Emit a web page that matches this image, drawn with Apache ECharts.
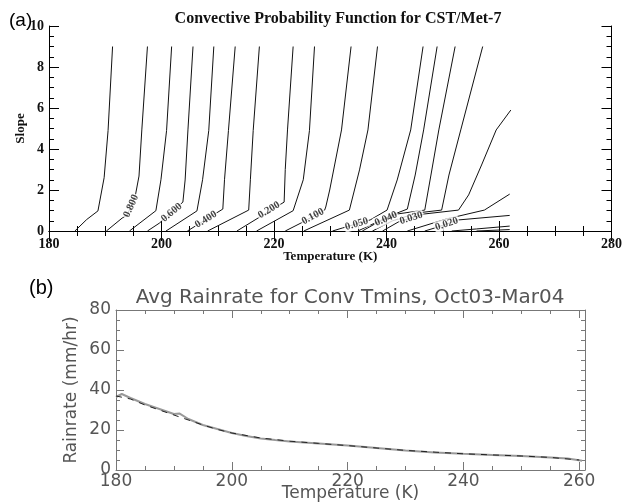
<!DOCTYPE html>
<html>
<head>
<meta charset="utf-8">
<script src="https://cdn.jsdelivr.net/npm/echarts@6/dist/echarts.min.js"></script>
<style>
html,body{margin:0;padding:0;background:#fff}
#main{width:625px;height:503px}
</style>
</head>
<body>
<div id="main"></div>
<script>
// (a) contour lines, [temperature K, slope]
const c01 = [[184.6,0],[186.7,0.56],[188.7,0.98],[189.8,2.6],[190.5,4.9],[191.3,9]];
const c02 = [[190.2,0],[193.0,0.63],[193.9,0.78],[195.3,1.66],[196.0,2.68],[196.5,4.93],[197.5,9]];
const c03 = [[194.3,0],[199.0,0.99],[199.9,2.5],[200.9,4.9],[201.8,9]];
const c04 = [[197.5,0],[199.6,0.38],[203.8,1.41],[204.2,2.49],[204.7,4.93],[205.6,9]];
const c05 = [[200.8,0],[206.3,0.98],[207.3,2.5],[208.4,4.9],[209.3,9]];
const c06 = [[204.6,0],[210.9,1.07],[211.2,2.5],[211.9,4.9],[213.1,9]];
const c07 = [[208.2,0],[215.5,1.02],[215.8,2.5],[216.3,4.9],[217.4,9]];
const c08 = [[213.4,0],[221.8,1.41],[222.0,3.0],[222.4,4.93],[223.4,9]];
const c09 = [[216.9,0],[223.4,0.99],[225.2,2.5],[226.3,4.9],[227.2,9]];
const c10 = [[222.0,0],[224.8,0.39],[229.0,1.02],[229.2,1.17],[229.9,2.0],[232.0,4.93],[233.7,9]];
const c11 = [[225.3,0],[233.4,1.02],[235.2,2.98],[236.7,4.93],[238.4,9]];
const c12 = [[230.4,0],[232.2,0.15],[237.1,0.54],[240.1,1.02],[241.9,2.49],[244.3,4.93],[246.5,9]];
const c13 = [[234.9,0],[241.0,0.78],[243.7,1.07],[245.1,2.73],[246.6,4.93],[249.0,9]];
const c14 = [[235.7,0],[237.9,0.34],[241.9,0.83],[246.8,1.02],[247.9,2.73],[249.3,4.93],[252.2,9]];
const c15 = [[237.5,0],[241.0,0.49],[245.4,0.88],[249.8,1.02],[251.1,2.73],[253.2,4.93],[257.1,9]];
const c16 = [[239.3,0],[242.1,0.44],[246.7,0.83],[252.8,1.02],[254.6,1.76],[256.9,3.22],[259.5,4.93],[262.1,5.9]];
const c17 = [[243.7,0],[250.7,0.59],[257.4,1.02],[261.9,1.8]];
const c18 = [[246.8,0],[248.6,0.15],[252.8,0.54],[261.9,0.76]];
const c19 = [[251.6,0],[256.0,0.1],[261.9,0.24]];
const c20 = [[256.0,0],[261.9,0.07]];
const contours = [c01,c02,c03,c04,c05,c06,c07,c08,c09,c10,c11,c12,c13,c14,c15,c16,c17,c18,c19,c20];

// contour labels
const levelText = ['0.800','0.600','0.400','0.200','0.100','0.050','0.040','0.030','0.020'];
const levelAt = [[194.6,1.22],[201.8,0.9],[207.9,0.56],[219.1,1.02],[226.9,0.71],[234.7,0.34],[239.9,0.59],[244.4,0.63],[250.7,0.34]];
const levelAngle = [66,40,32,31,28,16,23,17,18];

// (b) rainrate vs temperature
const rainT = [180,181,182.5,185,187.5,190,191,192.5,195,197.5,200,202.5,205,207.5,210,215,220,225,230,235,240,245,250,255,258,260.5];
const rainGray = [36.5,38,36,33,30.5,28,28.2,25.5,22.5,20.5,18.5,17,15.8,15,14.3,13.3,12.3,11,9.8,8.8,8.1,7.5,7,6.2,5.7,4.6];
const rainT2 = [180,182.5,185,187.5,190,192.5,195,197.5,200,205,210,215,220,230,240,250,255,260];
const rainBlack = [37,35.5,32.5,30,27.5,25,22.5,20.3,18.5,16,14.4,13.3,12.2,9.8,8.1,7,6.3,5];

const bMajor = [180,200,220,240,260];
const bMinor = [];
for (let t = 185; t < 261; t += 5) if (t % 20 !== 0) bMinor.push(t);

const serif = 'Liberation Serif';
const sans = 'DejaVu Sans';
const grayTxt = '#555';
const grayLine = '#777';

const chart = echarts.init(document.getElementById('main'));

const series = contours.map(function (c) {
  return {
    type: 'line', xAxisIndex: 0, yAxisIndex: 0,
    data: c, symbol: 'none', silent: true,
    lineStyle: {color: '#111', width: 1}
  };
});
series.push({
  type: 'scatter', xAxisIndex: 0, yAxisIndex: 0, symbolSize: 0, z: 5,
  data: levelAt.map(function (p, i) {
    return {value: p, name: levelText[i], label: {rotate: levelAngle[i]}};
  }),
  label: {
    show: true, position: 'inside', formatter: '{b}',
    fontFamily: serif, fontWeight: 'bold', fontSize: 10.5, color: '#111',
    backgroundColor: '#fff', padding: [0, 1]
  }
});
series.push({
  type: 'line', xAxisIndex: 2, yAxisIndex: 2, symbol: 'none',
  data: rainT.map(function (t, i) { return [t, rainGray[i]]; }),
  lineStyle: {color: '#999', width: 2}
});
series.push({
  type: 'line', xAxisIndex: 2, yAxisIndex: 2, symbol: 'none',
  data: rainT2.map(function (t, i) { return [t, rainBlack[i]]; }),
  lineStyle: {color: '#222', width: 1, type: [6, 6]}
});

const option = {
  animation: false,
  backgroundColor: '#fff',
  title: [
    {text: '(a)', left: 4, top: 6, textStyle: {fontFamily: 'Liberation Sans', fontWeight: 'normal', fontSize: 19, color: '#000'}},
    {text: '(b)', left: 24, top: 273, textStyle: {fontFamily: 'Liberation Sans', fontWeight: 'normal', fontSize: 20, color: '#000'}},
    {text: 'Convective Probability Function for CST/Met-7', left: 333, textAlign: 'center', top: 6,
      textStyle: {fontFamily: serif, fontWeight: 'bold', fontSize: 16, color: '#111'}},
    {text: 'Avg Rainrate for Conv Tmins, Oct03-Mar04', left: 345, textAlign: 'center', top: 283,
      textStyle: {fontFamily: sans, fontWeight: 'normal', fontSize: 20, color: grayTxt}}
  ],
  grid: [
    {left: 49, right: 9, top: 26, height: 205},
    {left: 116, right: 40, top: 310, height: 160}
  ],
  xAxis: [
    {gridIndex: 0, type: 'value', min: 180, max: 280, interval: 20, position: 'bottom',
      axisLine: {lineStyle: {color: '#000'}}, splitLine: {show: false},
      axisTick: {inside: true, length: 10, lineStyle: {color: '#000'}},
      minorTick: {show: true, splitNumber: 4, length: 5, lineStyle: {color: '#000'}},
      axisLabel: {fontFamily: serif, fontWeight: 'bold', fontSize: 14, color: '#111', margin: 6},
      name: 'Temperature (K)', nameLocation: 'middle', nameGap: 19, nameMoveOverlap: false,
      nameTextStyle: {fontFamily: serif, fontWeight: 'bold', fontSize: 13, color: '#111'}},
    {gridIndex: 0, type: 'value', min: 180, max: 280, interval: 20, position: 'top',
      axisLine: {lineStyle: {color: '#000'}}, splitLine: {show: false}, axisLabel: {show: false},
      axisTick: {inside: true, length: 10, lineStyle: {color: '#000'}},
      minorTick: {show: true, splitNumber: 4, length: 5, lineStyle: {color: '#000'}}},
    {gridIndex: 1, type: 'value', min: 180, max: 261, position: 'bottom',
      axisLine: {lineStyle: {color: grayLine}}, splitLine: {show: false},
      axisTick: {inside: true, length: 8, customValues: bMajor, lineStyle: {color: grayLine}},
      axisLabel: {customValues: bMajor, fontFamily: sans, fontSize: 17, color: grayTxt, margin: 3},
      name: 'Temperature (K)', nameLocation: 'middle', nameGap: 15, nameMoveOverlap: false,
      nameTextStyle: {fontFamily: sans, fontSize: 17, color: grayTxt}},
    {gridIndex: 1, type: 'value', min: 180, max: 261, position: 'bottom',
      axisLine: {show: false}, splitLine: {show: false}, axisLabel: {show: false},
      axisTick: {inside: true, length: 4, customValues: bMinor, lineStyle: {color: grayLine}}},
    {gridIndex: 1, type: 'value', min: 180, max: 261, position: 'top',
      axisLine: {lineStyle: {color: grayLine}}, splitLine: {show: false}, axisLabel: {show: false},
      axisTick: {inside: true, length: 8, customValues: bMajor, lineStyle: {color: grayLine}}},
    {gridIndex: 1, type: 'value', min: 180, max: 261, position: 'top',
      axisLine: {show: false}, splitLine: {show: false}, axisLabel: {show: false},
      axisTick: {inside: true, length: 4, customValues: bMinor, lineStyle: {color: grayLine}}}
  ],
  yAxis: [
    {gridIndex: 0, type: 'value', min: 0, max: 10, interval: 2, position: 'left',
      axisLine: {show: true, lineStyle: {color: '#000'}}, splitLine: {show: false},
      axisTick: {show: true, inside: true, length: 10, lineStyle: {color: '#000'}},
      minorTick: {show: true, splitNumber: 4, length: 5, lineStyle: {color: '#000'}},
      axisLabel: {fontFamily: serif, fontWeight: 'bold', fontSize: 14, color: '#111', margin: 5},
      name: 'Slope', nameLocation: 'middle', nameGap: 22, nameMoveOverlap: false,
      nameTextStyle: {fontFamily: serif, fontWeight: 'bold', fontSize: 13, color: '#111'}},
    {gridIndex: 0, type: 'value', min: 0, max: 10, interval: 2, position: 'right',
      axisLine: {show: true, lineStyle: {color: '#000'}}, splitLine: {show: false}, axisLabel: {show: false},
      axisTick: {show: true, inside: true, length: 10, lineStyle: {color: '#000'}},
      minorTick: {show: true, splitNumber: 4, length: 5, lineStyle: {color: '#000'}}},
    {gridIndex: 1, type: 'value', min: 0, max: 80, interval: 20, position: 'left',
      axisLine: {show: true, lineStyle: {color: grayLine}}, splitLine: {show: false},
      axisTick: {show: true, inside: true, length: 8, lineStyle: {color: grayLine}},
      minorTick: {show: true, splitNumber: 4, length: 4, lineStyle: {color: grayLine}},
      axisLabel: {fontFamily: sans, fontSize: 17, color: grayTxt, margin: 5},
      name: 'Rainrate (mm/hr)', nameLocation: 'middle', nameGap: 36, nameMoveOverlap: false,
      nameTextStyle: {fontFamily: sans, fontSize: 17, color: grayTxt}},
    {gridIndex: 1, type: 'value', min: 0, max: 80, interval: 20, position: 'right',
      axisLine: {show: true, lineStyle: {color: grayLine}}, splitLine: {show: false}, axisLabel: {show: false},
      axisTick: {show: true, inside: true, length: 8, lineStyle: {color: grayLine}},
      minorTick: {show: true, splitNumber: 4, length: 4, lineStyle: {color: grayLine}}}
  ],
  series: series
};
chart.setOption(option);
</script>
</body>
</html>
